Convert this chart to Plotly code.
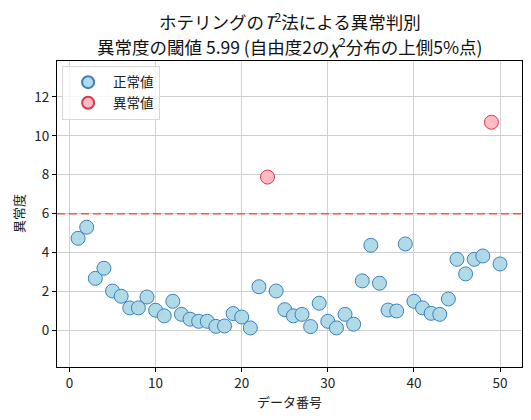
import plotly.graph_objects as go

# T^2 anomaly scores per data index
idx = list(range(1, 51))
score = [
    4.73, 5.30, 2.67, 3.19, 2.02, 1.75, 1.15, 1.15, 1.71, 1.03,
    0.74, 1.49, 0.82, 0.57, 0.46, 0.46, 0.20, 0.22, 0.86, 0.68,
    0.12, 2.24, 7.88, 2.02, 1.06, 0.74, 0.82, 0.19, 1.39, 0.46,
    0.12, 0.82, 0.31, 2.54, 4.37, 2.42, 1.04, 0.99, 4.44, 1.49,
    1.15, 0.87, 0.82, 1.61, 3.65, 2.90, 3.65, 3.82, 10.70, 3.41,
]
threshold = 5.99
x_ticks = [0, 10, 20, 30, 40, 50]
y_ticks = [0, 2, 4, 6, 8, 10, 12]

FONT = "Noto Sans CJK JP"
# page body adds an 8px offset, so the figure is sized/shifted to compensate
W, H = 523, 412
M = dict(l=49, r=9, t=53, b=53)
plot_w = W - M["l"] - M["r"]
plot_h = H - M["t"] - M["b"]

normal = [(i, s) for i, s in zip(idx, score) if s <= threshold]
anomal = [(i, s) for i, s in zip(idx, score) if s > threshold]

fig = go.Figure()
fig.add_trace(go.Scatter(
    x=[p[0] for p in normal], y=[p[1] for p in normal],
    mode="markers", name="正常値",
    marker=dict(size=14, color="rgba(173,216,230,0.95)",
                line=dict(color="#3b7fbf", width=1)),
))
fig.add_trace(go.Scatter(
    x=[p[0] for p in anomal], y=[p[1] for p in anomal],
    mode="markers", name="異常値",
    marker=dict(size=14, color="rgba(255,182,193,0.95)",
                line=dict(color="#d9384a", width=1)),
))
fig.add_hline(y=threshold, line_dash="8px,4px", line_color="#f2583e", line_width=1.6)

# two-line title as annotations
title_lines = [
    (13, "ホテリングの<i>T</i><sup>2</sup>法による異常判別"),
    (38, "異常度の閾値 5.99 (自由度2の<i>χ</i><sup>2</sup>分布の上側5%点)"),
]
for ypx, txt in title_lines:
    fig.add_annotation(
        text=txt, xref="paper", yref="paper", x=0.5, xanchor="center",
        y=(H - M["b"] - ypx) / plot_h, yanchor="middle", showarrow=False,
        font=dict(family=FONT, size=17.5, color="#111"),
    )

# y-axis title placed explicitly
fig.add_annotation(
    text="異常度", textangle=-90, xref="paper", yref="paper",
    x=(10 - M["l"]) / plot_w, xanchor="center", y=0.5, yanchor="middle",
    showarrow=False, font=dict(family=FONT, size=13, color="#222"),
)

axis_style = dict(
    showline=True, linecolor="black", linewidth=1, mirror=True,
    ticks="outside", ticklen=4, tickcolor="black",
    showgrid=True, gridcolor="#d0d0d0", gridwidth=1, zeroline=False,
    tickfont=dict(family=FONT, size=13.5, color="#222"), automargin=False,
)

fig.update_layout(
    width=W, height=H,
    margin=M,
    plot_bgcolor="white", paper_bgcolor="white",
    font=dict(family=FONT, color="#222"),
    xaxis=dict(axis_style, range=[-1.45, 52.55], tickvals=x_ticks,
               title=dict(text="データ番号", font=dict(family=FONT, size=13), standoff=4)),
    yaxis=dict(axis_style, range=[-1.89, 13.85], tickvals=y_ticks),
    legend=dict(
        x=0.011, y=0.984, xanchor="left", yanchor="top",
        bgcolor="rgba(255,255,255,0.8)", bordercolor="#d8d8d8", borderwidth=1,
        font=dict(family=FONT, size=13.5), itemsizing="constant", itemwidth=40,
    ),
    showlegend=True,
)

fig.write_html("out.html")
